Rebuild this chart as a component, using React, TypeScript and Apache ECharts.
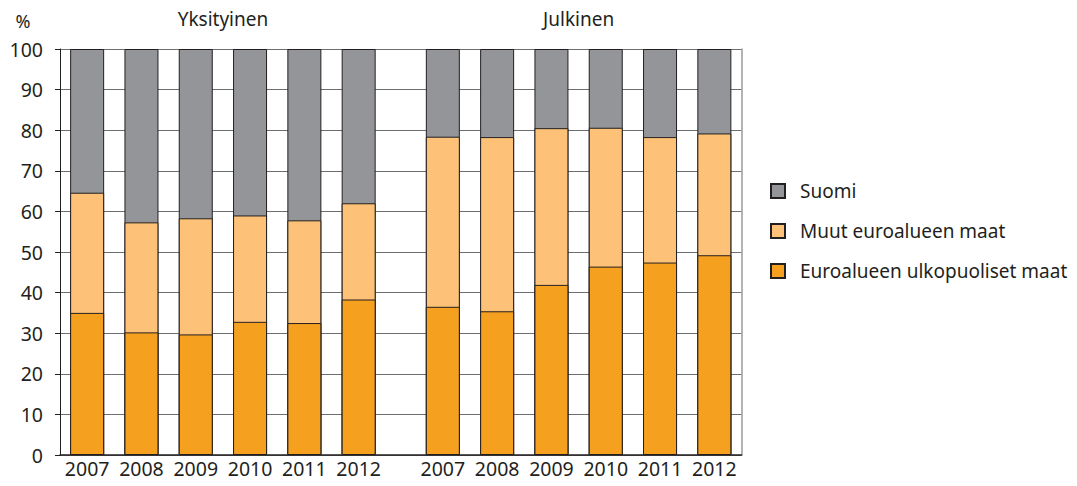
import React, { useEffect, useRef } from "react";
import * as echarts from "echarts";

const years = ["2007", "2008", "2009", "2010", "2011", "2012", "2007", "2008", "2009", "2010", "2011", "2012"];
const groupTitles = ["Yksityinen", "Julkinen"];
const seriesNames = ["Euroalueen ulkopuoliset maat", "Muut euroalueen maat", "Suomi"];
const outsideEuro = [35.0, 30.2, 29.7, 32.8, 32.5, 38.3, 36.5, 35.4, 41.9, 46.4, 47.4, 49.2];
const otherEuro = [29.6, 27.1, 28.6, 26.2, 25.3, 23.7, 41.9, 42.9, 38.6, 34.2, 30.9, 30.0];
const finland = [35.4, 42.7, 41.7, 41.0, 42.2, 38.0, 21.6, 21.7, 19.5, 19.4, 21.7, 20.8];
const yTicks = [0, 10, 20, 30, 40, 50, 60, 70, 80, 90, 100];

const colors = ["#F6A01F", "#FDC278", "#939598"];
const FONT = "Noto Sans";
const TEXT = "#231f20";
const GROUP_GAP = 0.55;

export default function App() {
  const ref = useRef<HTMLDivElement>(null);
  useEffect(() => {
    if (!ref.current) return;
    const chart = echarts.init(ref.current, null, { renderer: "svg" });
    const pos = years.map((_, i) => (i < 6 ? i : i + GROUP_GAP));
    const segments = [outsideEuro, otherEuro, finland];
    // cumulative tops of each stacked segment
    const tops = segments.map((_, s) =>
      years.map((__, i) => segments.slice(0, s + 1).reduce((acc, arr) => acc + arr[i], 0))
    );
    // draw from the topmost segment (back) to the bottom one (front)
    const order = [2, 1, 0];
    const series = order.map((s, k) => ({
      name: seriesNames[s],
      type: "bar",
      barWidth: 34,
      barGap: "-100%",
      z: 2 + k,
      data: tops[s].map((v, i) => [pos[i], v]),
      itemStyle: { color: colors[s], borderColor: TEXT, borderWidth: 1 },
      emphasis: { disabled: true },
    }));
    const center = (a: number, b: number) => (pos[a] + pos[b]) / 2;
    chart.setOption({
      animation: false,
      textStyle: { fontFamily: FONT },
      grid: { left: 60, right: 335.5, top: 49, bottom: 31 },
      title: [
        { text: "%", left: 18, top: 7, textAlign: "center", textStyle: { fontFamily: FONT, fontSize: 18, fontWeight: "normal", color: TEXT } },
      ],
      legend: {
        orient: "vertical",
        left: 770,
        top: 181.5,
        padding: 0,
        icon: "rect",
        itemWidth: 14,
        itemHeight: 14,
        itemGap: 21,
        data: ["Suomi", "Muut euroalueen maat", "Euroalueen ulkopuoliset maat"],
        textStyle: { fontFamily: FONT, fontSize: 19, color: TEXT, padding: [0, 0, 0, 10] },
        selectedMode: false,
      },
      xAxis: {
        type: "value",
        min: -0.5,
        max: 11 + GROUP_GAP + 0.5,
        splitLine: { show: false },
        axisTick: { show: false },
        axisLine: { show: true, onZero: false, lineStyle: { color: TEXT, width: 1.5 } },
        axisLabel: {
          customValues: pos,
          margin: 3,
          fontFamily: FONT,
          fontSize: 19.5,
          color: TEXT,
          formatter: (v: number) => {
            const idx = pos.findIndex((p) => Math.abs(p - v) < 0.01);
            return idx >= 0 ? years[idx] : "";
          },
        },
      },
      yAxis: [
        {
          type: "value",
          min: 0,
          max: 100,
          interval: 10,
          axisLine: { show: true, onZero: false, lineStyle: { color: TEXT, width: 1 } },
          axisTick: { show: true, length: 5, lineStyle: { color: TEXT } },
          splitLine: { show: true, lineStyle: { color: "#6d6e70", width: 1 } },
          axisLabel: {
            margin: 17,
            fontFamily: FONT,
            fontSize: 19.5,
            color: TEXT,
            formatter: (v: number) => (yTicks.includes(v) ? String(v) : ""),
          },
        },
        {
          type: "value",
          position: "right",
          min: 0,
          max: 100,
          interval: 10,
          axisLine: { show: true, onZero: false, lineStyle: { color: "#9a9a9a", width: 1.5 } },
          axisTick: { show: false },
          axisLabel: { show: false },
          splitLine: { show: false },
        },
      ],
      series,
    });
    const gx1 = chart.convertToPixel({ xAxisIndex: 0 }, center(0, 5)) as number;
    const gx2 = chart.convertToPixel({ xAxisIndex: 0 }, center(6, 11)) as number;
    chart.setOption({
      graphic: [
        { type: "text", x: gx1, y: 19, style: { text: groupTitles[0], fontFamily: FONT, fontSize: 19, fill: TEXT, align: "center", verticalAlign: "middle" } },
        { type: "text", x: gx2, y: 19, style: { text: groupTitles[1], fontFamily: FONT, fontSize: 19, fill: TEXT, align: "center", verticalAlign: "middle" } },
      ],
    });
    return () => chart.dispose();
  }, []);
  return <div ref={ref} style={{ width: 1077, height: 486, margin: -8 }} />;
}
